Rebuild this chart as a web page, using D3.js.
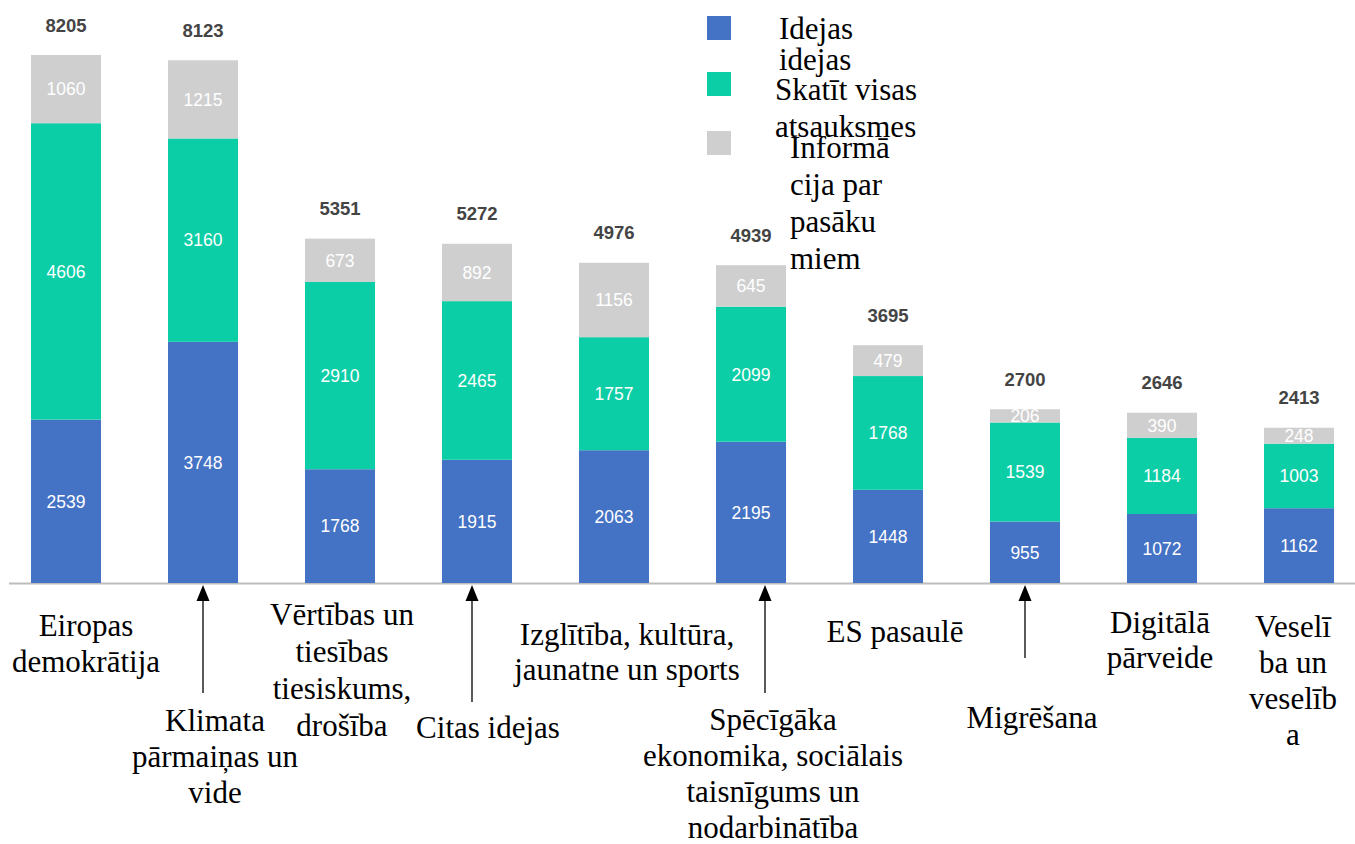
<!DOCTYPE html>
<meta charset="utf-8">
<head>
    <script type="text/javascript" src="https://d3js.org/d3.v7.min.js"></script>
    <style>
        body { margin: 0; background: #fff; }
        .total { font-family: "Liberation Sans", Arial, sans-serif; font-weight: bold; font-size: 18.5px; fill: #444; }
        .seg { font-family: "Liberation Sans", Arial, sans-serif; font-size: 17.5px; fill: #fff; }
        .serif { font-family: "Liberation Serif", "Times New Roman", serif; font-size: 31px; fill: #000; }
    </style>
    <title></title>
</head>
<body>
    <script>
        // data
        var categories = ["Eiropas demokrātija", "Klimata pārmaiņas un vide", "Vērtības un tiesības",
            "Citas idejas", "Izglītība, kultūra, jaunatne un sports", "Spēcīgāka ekonomika",
            "ES pasaulē", "Migrēšana", "Digitālā pārveide", "Veselība"];
        var ideas    = [2539, 3748, 1768, 1915, 2063, 2195, 1448, 955, 1072, 1162];
        var comments = [4606, 3160, 2910, 2465, 1757, 2099, 1768, 1539, 1184, 1003];
        var events   = [1060, 1215, 673, 892, 1156, 645, 479, 206, 390, 248];
        var totals   = [8205, 8123, 5351, 5272, 4976, 4939, 3695, 2700, 2646, 2413];
        var seriesNames = ["Idejas idejas", "Skatīt visas atsauksmes", "Informācija par pasākumiem"];
        var legendLines = [["Idejas", "idejas"], ["Skatīt visas", "atsauksmes"], ["Informā", "cija par", "pasāku", "miem"]];
        var labelLines = [
            ["Eiropas", "demokrātija"],
            ["Klimata", "pārmaiņas un", "vide"],
            ["Vērtības un", "tiesības", "tiesiskums,", "drošība"],
            ["Citas idejas"],
            ["Izglītība, kultūra,", "jaunatne un sports"],
            ["Spēcīgāka", "ekonomika, sociālais", "taisnīgums un", "nodarbinātība"],
            ["ES pasaulē"],
            ["Migrēšana"],
            ["Digitālā", "pārveide"],
            ["Veselī", "ba un", "veselīb", "a"]
        ];
        var arrowBars = [1, 3, 5, 7];

        var colors = ["#4472c4", "#0ccea6", "#d0cfd0"];
        var W = 1355, H = 844, base = 583;

        var svg = d3.select("body").append("svg")
            .attr("width", W).attr("height", H);

        var x = d3.scaleBand().domain(categories)
            .range([-2.5, 1367.5]).paddingInner(0.489).paddingOuter(0.2445);
        var y = d3.scaleLinear().domain([0, 8205]).range([base, 55]);

        var rows = categories.map(function(c, i) {
            return {cat: c, ideas: ideas[i], comments: comments[i], events: events[i], total: totals[i]};
        });
        var stack = d3.stack().keys(["ideas", "comments", "events"])(rows);

        // axis line
        svg.append("line")
            .attr("x1", 9).attr("x2", W).attr("y1", base + 0.5).attr("y2", base + 0.5)
            .attr("stroke", "#bdbdbd").attr("stroke-width", 2);

        var layers = svg.selectAll("g.layer").data(stack).enter().append("g")
            .attr("class", "layer").attr("fill", function(d, i) { return colors[i]; });
        layers.selectAll("rect").data(function(d) { return d; }).enter().append("rect")
            .attr("x", function(d) { return x(d.data.cat); })
            .attr("width", x.bandwidth())
            .attr("y", function(d) { return y(d[1]); })
            .attr("height", function(d) { return y(d[0]) - y(d[1]); });
        layers.selectAll("text").data(function(d) { return d; }).enter().append("text")
            .attr("class", "seg")
            .attr("text-anchor", "middle")
            .attr("x", function(d) { return x(d.data.cat) + x.bandwidth() / 2; })
            .attr("y", function(d) { return (y(d[0]) + y(d[1])) / 2; })
            .attr("dy", "0.36em")
            .text(function(d) { return d[1] - d[0]; });

        svg.selectAll("text.total").data(rows).enter().append("text")
            .attr("class", "total")
            .attr("text-anchor", "middle")
            .attr("x", function(d) { return x(d.cat) + x.bandwidth() / 2; })
            .attr("y", function(d) { return y(d.total) - 30; })
            .attr("dy", "0.36em")
            .text(function(d) { return d.total; });

        // category labels: centre x, first baseline, line height
        var labelPos = [[86, 636, 36], [215, 731, 36], [342, 625, 37], [488, 738, 36], [627, 645, 35],
            [773, 730, 36], [895, 642, 36], [1032, 728, 36], [1160, 633, 35], [1293, 637, 36]];
        labelLines.forEach(function(l, i) {
            l.forEach(function(t, k) {
                svg.append("text").attr("class", "serif")
                    .attr("text-anchor", "middle")
                    .attr("x", labelPos[i][0])
                    .attr("y", labelPos[i][1] + k * labelPos[i][2])
                    .text(t);
            });
        });

        // arrows pointing at bars
        var arrowPos = [[203, 693], [472, 702], [765, 693], [1025, 658]];
        arrowBars.forEach(function(b, k) {
            var ax = arrowPos[k][0];
            svg.append("line").attr("x1", ax).attr("x2", ax)
                .attr("y1", base + 14).attr("y2", arrowPos[k][1])
                .attr("stroke", "#000").attr("stroke-width", 1.3);
            svg.append("path")
                .attr("d", "M" + ax + "," + (base + 2) + "L" + (ax - 6.5) + "," + (base + 18) + "L" + (ax + 6.5) + "," + (base + 18) + "Z")
                .attr("fill", "#000");
        });

        // legend (its lines overlap in the original too)
        var legendPos = [[779, 39, 31], [775, 100, 37], [790, 158, 37]];
        var legendBox = [16, 72, 131];
        seriesNames.forEach(function(s, i) {
            svg.append("rect").attr("x", 707).attr("y", legendBox[i]).attr("width", 24).attr("height", 24)
                .attr("fill", colors[i]);
            legendLines[i].forEach(function(t, k) {
                svg.append("text").attr("class", "serif")
                    .attr("x", legendPos[i][0])
                    .attr("y", legendPos[i][1] + k * legendPos[i][2])
                    .text(t);
            });
        });
    </script>
</body>
</html>
